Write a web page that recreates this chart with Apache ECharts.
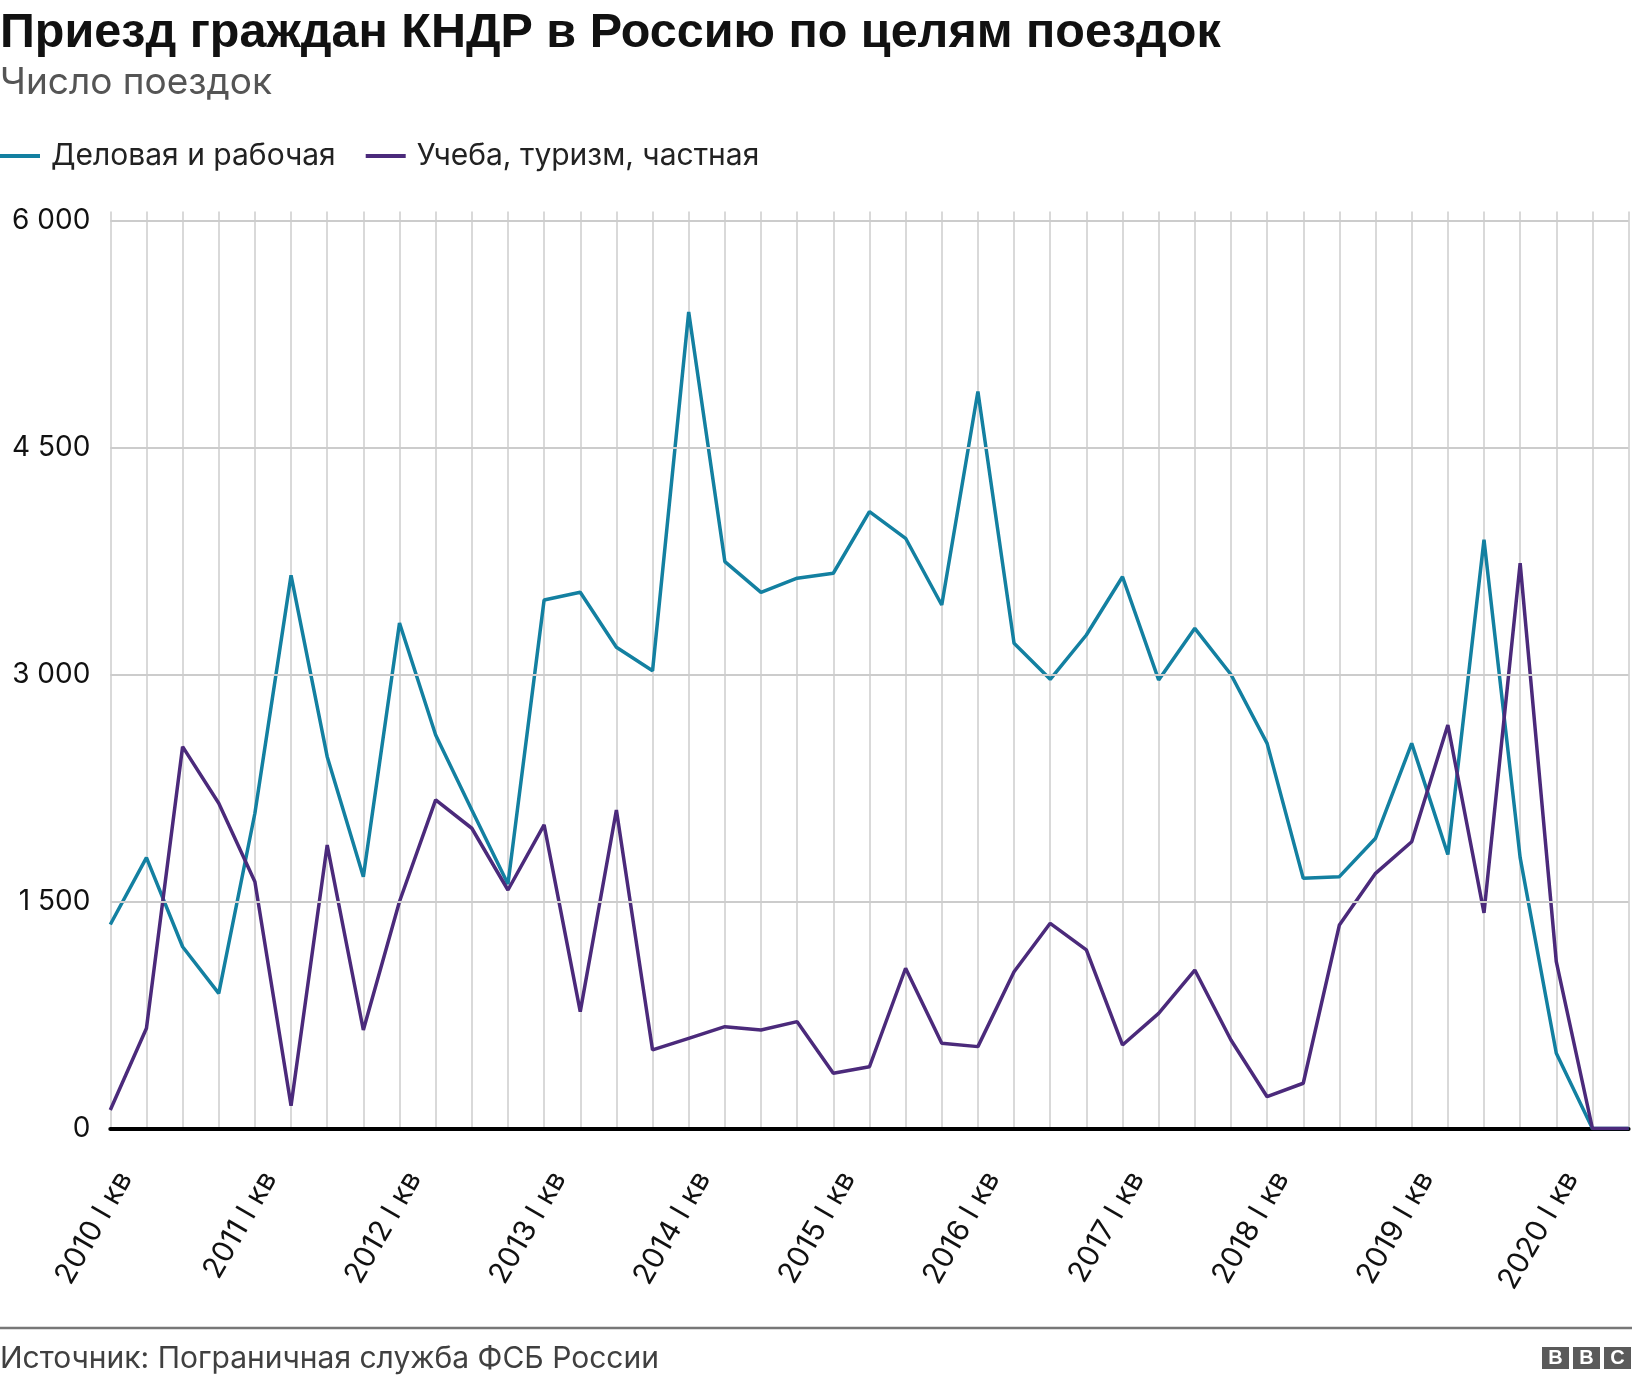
<!DOCTYPE html>
<html>
<head>
<meta charset="utf-8">
<title>Приезд граждан КНДР в Россию</title>
<script src="https://cdn.jsdelivr.net/npm/echarts@6/dist/echarts.min.js"></script>
<style>
  html, body { margin: 0; padding: 0; background: #fff; }
  #chart { width: 1632px; height: 1384px; }
</style>
</head>
<body>
<div id="chart"></div>
<script>
// квартальные данные, 2010 I кв — 2020 III кв
const years = [2010, 2011, 2012, 2013, 2014, 2015, 2016, 2017, 2018, 2019, 2020];
const quarters = ['I', 'II', 'III', 'IV'];
const categories = [];
years.forEach(y => quarters.forEach(q => categories.push(y + ' ' + q + ' кв')));
categories.splice(43); // последний квартал — 2020 III

// Деловая и рабочая
const business = [
  1348, 1790, 1201, 893, 2083, 3655, 2457, 1664, 3340, 2600, 2105,
  1615, 3492, 3543, 3180, 3025, 5395, 3746, 3543, 3636, 3669, 4076,
  3900, 3459, 4870, 3206, 2968, 3261, 3646, 2964, 3305, 3000, 2545,
  1653, 1664, 1918, 2545, 1810, 3890, 1790, 497, 0, 0
];
// Учеба, туризм, частная
const study = [
  122, 662, 2523, 2149, 1631, 150, 1873, 651, 1500, 2171, 1984,
  1576, 2006, 772, 2105, 519, 596, 673, 651, 706, 365, 408,
  1059, 563, 541, 1036, 1356, 1180, 552, 761, 1047, 585, 210,
  299, 1345, 1686, 1895, 2666, 1425, 3735, 1102, 0, 0
];
const seriesNames = ['Деловая и рабочая', 'Учеба, туризм, частная'];
const yTicks = [1500, 3000, 4500, 6000];

const font = 'Inter';
const fmt = v => String(v).replace(/\B(?=(\d{3})+(?!\d))/g, ' ');

const chart = echarts.init(document.getElementById('chart'));
chart.setOption({
  animation: false,
  backgroundColor: '#fff',
  textStyle: { fontFamily: font },
  title: [
    {
      text: 'Приезд граждан КНДР в Россию по целям поездок',
      left: 0, top: 9, padding: 0,
      textStyle: { fontFamily: '"Liberation Sans", Arial, sans-serif', fontSize: 48.5, fontWeight: 'bold', color: '#111' }
    },
    {
      text: 'Число поездок',
      left: 0, top: 64, padding: 0,
      textStyle: { fontFamily: font, fontSize: 37, fontWeight: 'normal', color: '#555' }
    },
    {
      text: 'Источник: Пограничная служба ФСБ России',
      left: 0, top: 1344, padding: 0,
      textStyle: { fontFamily: font, fontSize: 30, fontWeight: 'normal', color: '#404040' }
    }
  ],
  legend: {
    data: seriesNames,
    left: 0, top: 141, padding: 0,
    icon: 'rect', itemWidth: 40, itemHeight: 4, itemGap: 30,
    textStyle: { fontFamily: font, fontSize: 30, color: '#222', padding: [0, 0, 0, 6] }
  },
  grid: { left: 110.3, right: 3.4, top: 211.4, bottom: 255.5, outerBoundsMode: 'none' },
  xAxis: {
    type: 'category',
    data: categories,
    boundaryGap: false,
    axisLine: { lineStyle: { color: '#000', width: 4 } },
    axisTick: { show: false },
    splitLine: { show: true, interval: 0, lineStyle: { color: '#cccccc', width: 1.5 } },
    axisLabel: {
      interval: 3, rotate: 60, margin: 37,
      verticalAlign: 'top', padding: [2, 0, 0, 0],
      fontFamily: font, fontSize: 29.5, color: '#111',
      formatter: v => v.endsWith(' I кв') ? v : ''
    }
  },
  yAxis: {
    type: 'value',
    min: 0, max: 6060, interval: 1500,
    axisLine: { show: false },
    axisTick: { show: false },
    splitLine: { show: false },
    axisLabel: {
      margin: 20, fontFamily: font, fontSize: 28, color: '#111',
      formatter: v => (v % 1500 === 0 ? fmt(v) : '')
    }
  },
  series: [
    {
      // горизонтальная сетка
      type: 'line', data: [], z: 1, silent: true,
      markLine: {
        silent: true, symbol: ['none', 'none'], label: { show: false },
        lineStyle: { color: '#cccccc', width: 2, type: 'solid' },
        data: yTicks.map(v => ({ yAxis: v }))
      }
    },
    {
      name: seriesNames[0], type: 'line', data: business, z: 3,
      symbol: 'none', color: '#1380A1',
      lineStyle: { width: 3.5, color: '#1380A1' }
    },
    {
      name: seriesNames[1], type: 'line', data: study, z: 4,
      symbol: 'none', color: '#4B2A7B',
      lineStyle: { width: 3.5, color: '#4B2A7B' }
    }
  ],
  graphic: [
    { type: 'line', shape: { x1: 0, y1: 1328, x2: 1632, y2: 1328 }, style: { stroke: '#777', lineWidth: 2.5 } },
    { type: 'rect', shape: { x: 1542, y: 1347, width: 27, height: 22 }, style: { fill: '#5a5a5a' } },
    { type: 'rect', shape: { x: 1573, y: 1347, width: 27, height: 22 }, style: { fill: '#5a5a5a' } },
    { type: 'rect', shape: { x: 1604, y: 1347, width: 27, height: 22 }, style: { fill: '#5a5a5a' } },
    { type: 'text', x: 1555.5, y: 1358.5, style: { text: 'B', fill: '#fff', font: 'bold 20px "Liberation Sans"', align: 'center', verticalAlign: 'middle' } },
    { type: 'text', x: 1586.5, y: 1358.5, style: { text: 'B', fill: '#fff', font: 'bold 20px "Liberation Sans"', align: 'center', verticalAlign: 'middle' } },
    { type: 'text', x: 1617.5, y: 1358.5, style: { text: 'C', fill: '#fff', font: 'bold 20px "Liberation Sans"', align: 'center', verticalAlign: 'middle' } }
  ]
});
</script>
</body>
</html>
